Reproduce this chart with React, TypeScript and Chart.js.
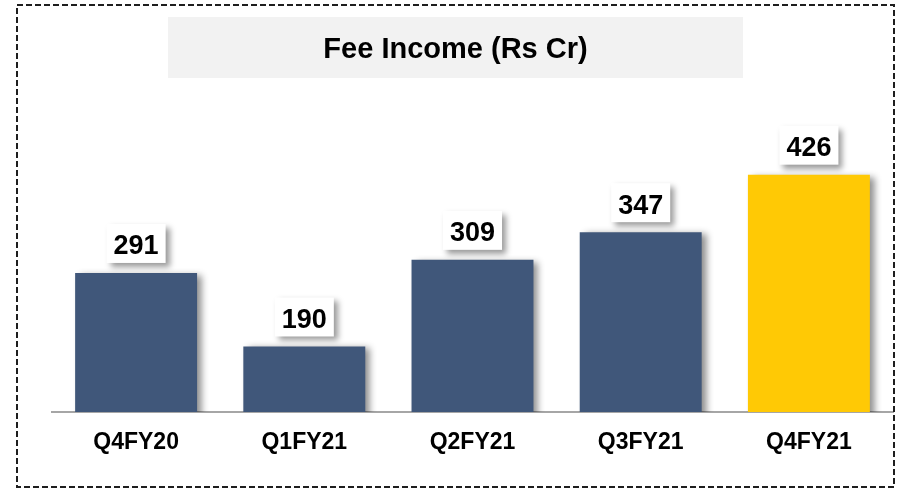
import React, { useEffect, useRef } from "react";
import { Chart, registerables } from "chart.js";

Chart.register(...registerables);

const categories = ["Q4FY20", "Q1FY21", "Q2FY21", "Q3FY21", "Q4FY21"];
const feeIncome = [291, 190, 309, 347, 426];
const barColors = ["#40577A", "#40577A", "#40577A", "#40577A", "#FFC905"];
const titleText = "Fee Income (Rs Cr)";

const FONT = "'Liberation Sans', Arial, sans-serif";

const decorPlugin = {
  id: "decor",
  beforeDraw(chart: any) {
    const ctx = chart.ctx;
    ctx.save();
    ctx.fillStyle = "#FFFFFF";
    ctx.fillRect(0, 0, chart.width, chart.height);
    ctx.fillStyle = "#F2F2F2";
    ctx.fillRect(168, 17, 575, 61);
    ctx.restore();
  },
  beforeDatasetsDraw(chart: any) {
    const ctx = chart.ctx;
    ctx.save();
    ctx.shadowColor = "rgba(0,0,0,0.45)";
    ctx.shadowBlur = 7;
    ctx.shadowOffsetX = 5;
    ctx.shadowOffsetY = 2;
  },
  afterDatasetsDraw(chart: any) {
    const ctx = chart.ctx;
    ctx.restore();
    const meta = chart.getDatasetMeta(0);
    const data = chart.data.datasets[0].data as number[];
    ctx.save();
    ctx.font = `bold 27px ${FONT}`;
    meta.data.forEach((bar: any, i: number) => {
      const txt = String(data[i]);
      const tw = ctx.measureText(txt).width;
      const w = tw + 14;
      const h = 39;
      const x = bar.x - w / 2;
      const y = bar.y - 10 - h;
      ctx.save();
      ctx.shadowColor = "rgba(0,0,0,0.4)";
      ctx.shadowBlur = 6;
      ctx.shadowOffsetX = 4;
      ctx.shadowOffsetY = 4;
      ctx.fillStyle = "#FFFFFF";
      ctx.fillRect(x, y, w, h);
      ctx.restore();
      ctx.fillStyle = "#000000";
      ctx.textAlign = "center";
      ctx.textBaseline = "alphabetic";
      ctx.fillText(txt, bar.x, y + h / 2 + 11);
    });
    ctx.restore();
  },
  afterDraw(chart: any) {
    const ctx = chart.ctx;
    ctx.save();
    ctx.strokeStyle = "#1E1E1E";
    ctx.lineWidth = 2;
    ctx.setLineDash([6, 3]);
    ctx.strokeRect(17, 5, 877, 482);
    ctx.restore();
  },
};

export default function App() {
  const ref = useRef<HTMLCanvasElement | null>(null);
  useEffect(() => {
    if (!ref.current) return;
    const chart = new Chart(ref.current, {
      type: "bar",
      data: {
        labels: categories,
        datasets: [
          {
            data: feeIncome,
            backgroundColor: barColors,
            borderWidth: 0,
            categoryPercentage: 1,
            barPercentage: 0.725,
          },
        ],
      },
      options: {
        animation: false,
        responsive: false,
        maintainAspectRatio: false,
        layout: { padding: { left: 18, right: 4, top: 0, bottom: 0 } },
        plugins: {
          legend: { display: false },
          tooltip: { enabled: false },
          title: {
            display: true,
            text: titleText,
            color: "#000000",
            font: { family: FONT, size: 29, weight: "bold" },
            padding: { top: 33, bottom: 53 },
          },
        },
        scales: {
          x: {
            grid: { display: false, drawTicks: false },
            border: { display: true, color: "#A6A6A6", width: 2 },
            ticks: {
              color: "#000000",
              font: { family: FONT, size: 23, weight: "bold" },
              padding: 17,
            },
            afterFit: (scale: any) => {
              scale.height = 76;
            },
          },
          y: {
            display: true,
            min: 100,
            max: 500,
            grid: { display: false, drawTicks: false },
            border: { display: false },
            ticks: { display: false },
            afterFit: (scale: any) => {
              scale.width = 34;
            },
          },
        },
      },
      plugins: [decorPlugin],
    });
    return () => chart.destroy();
  }, []);
  return (
    <div style={{ position: "absolute", left: 0, top: 0, width: 897, height: 488 }}>
      <canvas ref={ref} width={897} height={488} style={{ display: "block" }} />
    </div>
  );
}
